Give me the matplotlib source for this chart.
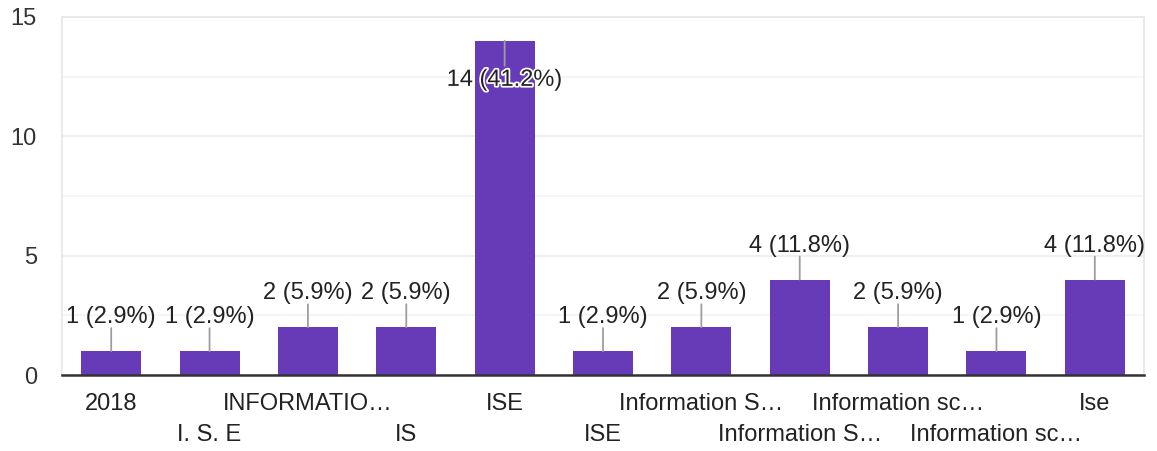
import matplotlib.pyplot as plt
import matplotlib.patheffects as pe

# Datos del gráfico
categorias = ["2018", "I. S. E", "INFORMATIO…", "IS", "ISE", "ISE",
              "Information S…", "Information S…", "Information sc…",
              "Information sc…", "Ise"]
valores = [1, 1, 2, 2, 14, 1, 2, 4, 2, 1, 4]
total = sum(valores)
etiquetas = [f"{v} ({v / total * 100:.1f}%)" for v in valores]

plt.rcParams['font.family'] = ['Liberation Sans', 'DejaVu Sans']
TAM = 17

fig = plt.figure(figsize=(11.57, 4.51), dpi=100)
ax = fig.add_axes([62 / 1157, 76 / 451, 1082 / 1157, 358 / 451])

x = list(range(len(valores)))
ax.bar(x, valores, width=0.61, color='#673ab7', zorder=3)

ax.set_xlim(-0.5, len(valores) - 0.5)
ax.set_ylim(0, 15)

# Rejilla
ax.set_yticks([0, 5, 10, 15])
ax.set_yticks([2.5, 7.5, 12.5], minor=True)
ax.grid(axis='y', which='major', color='#ebebeb', linewidth=1.2, zorder=0)
ax.grid(axis='y', which='minor', color='#f4f4f4', linewidth=1.2, zorder=0)
ax.tick_params(axis='y', which='both', length=0, pad=18, labelsize=TAM,
               labelcolor='#333333')

# Bordes
for lado in ['top', 'right', 'left']:
    ax.spines[lado].set_color('#e6e6e6')
    ax.spines[lado].set_linewidth(1.2)
ax.spines['bottom'].set_color('#333333')
ax.spines['bottom'].set_linewidth(1.8)
ax.spines['bottom'].set_zorder(4)

# Etiquetas del eje x en dos filas alternas
ax.set_xticks(x)
ax.set_xticklabels([])
ax.tick_params(axis='x', length=0)
for i, nombre in enumerate(categorias):
    desplazamiento = -29 if i % 2 == 0 else -60
    ax.annotate(nombre, xy=(i, 0), xycoords=('data', 'axes fraction'),
                xytext=(0, desplazamiento), textcoords='offset pixels',
                ha='center', va='center', fontsize=TAM, color='#222222')

# Etiquetas de valor con línea guía
for i, v in enumerate(valores):
    if v >= 13:
        # no cabe arriba: se pone dentro de la barra
        ax.annotate('', xy=(i, v), xytext=(0, -25), textcoords='offset pixels',
                    arrowprops=dict(arrowstyle='-', color='#9e9e9e', lw=1.3,
                                    shrinkA=0, shrinkB=0), zorder=5)
        t = ax.annotate(etiquetas[i], xy=(i, v), xytext=(0, -39),
                        textcoords='offset pixels', ha='center', va='center',
                        fontsize=TAM, color='#222222', zorder=6)
        t.set_path_effects([pe.withStroke(linewidth=2.5, foreground='white')])
    else:
        ax.annotate('', xy=(i, v), xytext=(0, 23), textcoords='offset pixels',
                    arrowprops=dict(arrowstyle='-', color='#9e9e9e', lw=1.3,
                                    shrinkA=0, shrinkB=0), zorder=5)
        ax.annotate(etiquetas[i], xy=(i, v), xytext=(0, 34),
                    textcoords='offset pixels', ha='center', va='center',
                    fontsize=TAM, color='#222222', zorder=6)

fig.savefig('out.png', dpi=100)
